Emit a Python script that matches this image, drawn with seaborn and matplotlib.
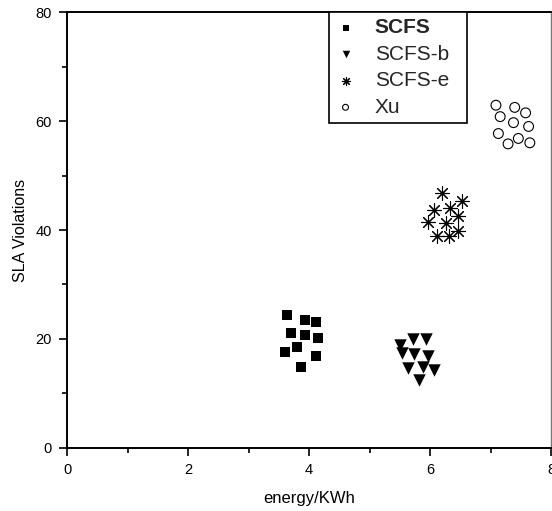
import matplotlib
matplotlib.use("Agg")
import matplotlib.pyplot as plt
import seaborn as sns
import pandas as pd
from matplotlib.ticker import MultipleLocator

# ---- data ----
scfs_x = [3.64, 3.93, 4.12, 3.70, 3.93, 4.15, 3.60, 3.80, 4.12, 3.86]
scfs_y = [24.4, 23.5, 23.1, 21.1, 20.7, 20.2, 17.6, 18.5, 16.8, 14.9]

scfsb_x = [5.72, 5.93, 5.50, 5.53, 5.74, 5.97, 5.64, 5.88, 6.07, 5.82]
scfsb_y = [20.0, 20.0, 18.9, 17.4, 17.2, 16.9, 14.6, 14.8, 14.3, 12.5]

scfse_x = [6.20, 6.53, 6.07, 6.33, 6.47, 5.97, 6.26, 6.47, 6.12, 6.32]
scfse_y = [46.8, 45.4, 43.6, 44.1, 42.6, 41.4, 41.2, 39.9, 38.9, 38.9]

xu_x = [7.09, 7.40, 7.58, 7.16, 7.38, 7.63, 7.13, 7.46, 7.29, 7.65]
xu_y = [62.9, 62.5, 61.5, 60.8, 59.7, 59.0, 57.7, 56.8, 55.8, 56.0]

series_names = ["SCFS", "SCFS-b", "SCFS-e", "Xu"]
x_ticks = [0, 2, 4, 6, 8]
y_ticks = [0, 20, 40, 60, 80]

frames = []
for name, xs, ys in zip(series_names,
                        [scfs_x, scfsb_x, scfse_x, xu_x],
                        [scfs_y, scfsb_y, scfse_y, xu_y]):
    frames.append(pd.DataFrame({"energy": xs, "sla": ys, "method": name}))
df = pd.concat(frames, ignore_index=True)

sns.set_theme(style="white")
plt.rcParams["font.family"] = ["Liberation Sans", "DejaVu Sans"]

fig = plt.figure(figsize=(5.52, 5.11), dpi=100)
ax = fig.add_axes([0.1214, 0.1233, 0.8768, 0.8532])

styles = {
    "SCFS": dict(marker="s", s=48, color="black", edgecolor="black", linewidth=0),
    "SCFS-b": dict(marker="v", s=80, color="black", edgecolor="black", linewidth=0),
    "SCFS-e": dict(marker=(8, 2, 0), s=95, color="black", edgecolor="black", linewidth=0.8),
    "Xu": dict(marker="o", s=50, facecolor="none", edgecolor="black", linewidth=0.8),
}

for name in series_names:
    sub = df[df["method"] == name]
    sns.scatterplot(data=sub, x="energy", y="sla", ax=ax, label=name,
                    legend=False, **styles[name])

ax.set_xlim(0, 8)
ax.set_ylim(0, 80)
ax.set_xticks(x_ticks)
ax.set_yticks(y_ticks)
ax.xaxis.set_minor_locator(MultipleLocator(1))
ax.yaxis.set_minor_locator(MultipleLocator(10))
ax.tick_params(axis="both", which="major", direction="out", length=6, width=1.2,
               color="black", labelsize=10.5, pad=5, bottom=True, left=True,
               top=False, right=False, labelcolor="black")
ax.tick_params(axis="both", which="minor", direction="out", length=3.5, width=1.2,
               color="black", bottom=True, left=True, top=False, right=False)

for side in ["left", "bottom", "top"]:
    ax.spines[side].set_color("black")
    ax.spines[side].set_linewidth(1.4)
ax.spines["right"].set_color("#777777")
ax.spines["right"].set_linewidth(1.0)

ax.set_xlabel("energy/KWh", fontsize=12, color="black", labelpad=10)
ax.set_ylabel("SLA Violations", fontsize=11.5, color="black", labelpad=5)

# legend
handles, labels = ax.get_legend_handles_labels()
leg = ax.legend(handles, labels, loc="upper left",
                bbox_to_anchor=(0.541, 0.728, 0.285, 0.272), mode="expand",
                borderaxespad=0, frameon=True, fancybox=False, framealpha=1,
                edgecolor="black", fontsize=15, labelspacing=0.36,
                handletextpad=0.9, handlelength=1.0, borderpad=0.3,
                markerscale=0.6)
leg.get_frame().set_linewidth(1.2)
for t in leg.get_texts():
    if t.get_text() == "SCFS":
        t.set_fontweight("bold")

fig.savefig("out.png", dpi=100)
